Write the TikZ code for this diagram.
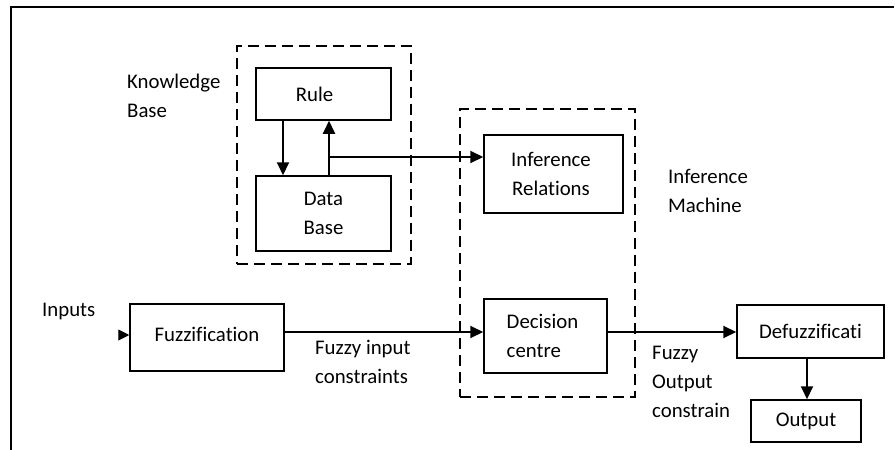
\documentclass[tikz,border=0pt]{standalone}
\usepackage{fontspec}
\setmainfont{Carlito}[Ligatures=NoCommon]
\usetikzlibrary{arrows.meta}
\tikzset{
  box/.style={draw, line width=1.5pt, align=center, inner sep=0pt},
  dbox/.style={draw, line width=1.5pt, dash pattern=on 11pt off 6pt, inner sep=0pt},
  lbl/.style={anchor=base west, align=left, inner sep=0pt},
  arr/.style={line width=2pt, -{Triangle[length=13pt,width=12pt]}},
}
\begin{document}
\begin{tikzpicture}[x=1pt, y=-1pt, font=\fontsize{20.8}{29}\selectfont]
\useasboundingbox (0,0) rectangle (895,450);
% outer frame
\draw[line width=1.7pt] (11,450) -- (11,7) -- (894,7);
% dashed groups
\node[dbox, minimum width=174, minimum height=218] (kb) at (324,155) {};
\node[dbox, minimum width=175, minimum height=288] (im) at (547.5,253) {};
% boxes
\node[box, minimum width=135, minimum height=52] (rule) at (323.5,94) {\hspace*{-18pt}Rule};
\node[box, minimum width=135, minimum height=75] (db) at (323.5,213.5) {Data\\Base};
\node[box, minimum width=139, minimum height=78] (ir) at (553.5,174) {\hspace*{-5pt}Inference\\\hspace*{-5pt}Relations};
\node[box, minimum width=123, minimum height=74, align=left] (dc) at (545.5,336) {\hspace*{-6pt}Decision\\\hspace*{-6pt}centre};
\node[box, minimum width=154, minimum height=67] (fuzz) at (207,337.5) {\raisebox{7pt}{Fuzzification}};
\node[box, minimum width=147, minimum height=53] (defuzz) at (810.5,331.5) {Defuzzificati};
\node[box, minimum width=110, minimum height=42] (out) at (806,421) {Output};
% labels (anchor at baseline of last line)
\node[lbl] (kbl) at (127,117) {Knowledge\\Base};
\node[lbl] (iml) at (668,212) {Inference\\Machine};
\node[lbl] (inl) at (42,316) {Inputs};
\node[lbl] (fil) at (315,383) {Fuzzy input\\constraints};
\node[lbl] (fol) at (652,417) {Fuzzy\\Output\\constrain};
% connectors
\coordinate (dnx) at (283,0);
\coordinate (j) at (329,157);
\coordinate (fy) at (0,332);
\coordinate (ox) at (807,0);
\coordinate (inp) at (119,335);
\draw[arr] (rule.south -| dnx) -- (db.north -| dnx);
\draw[arr] (db.north -| j) -- (rule.south -| j);
\draw[arr] (j) -- (j -| ir.west);
\draw[arr] (fuzz.east |- fy) -- (dc.west |- fy);
\draw[arr] (dc.east |- fy) -- (defuzz.west |- fy);
\draw[arr] (defuzz.south -| ox) -- (out.north -| ox);
\draw[-{Triangle[length=11pt,width=11pt]}, line width=1pt] (inp) -- (fuzz.west |- inp);
\end{tikzpicture}
\end{document}
